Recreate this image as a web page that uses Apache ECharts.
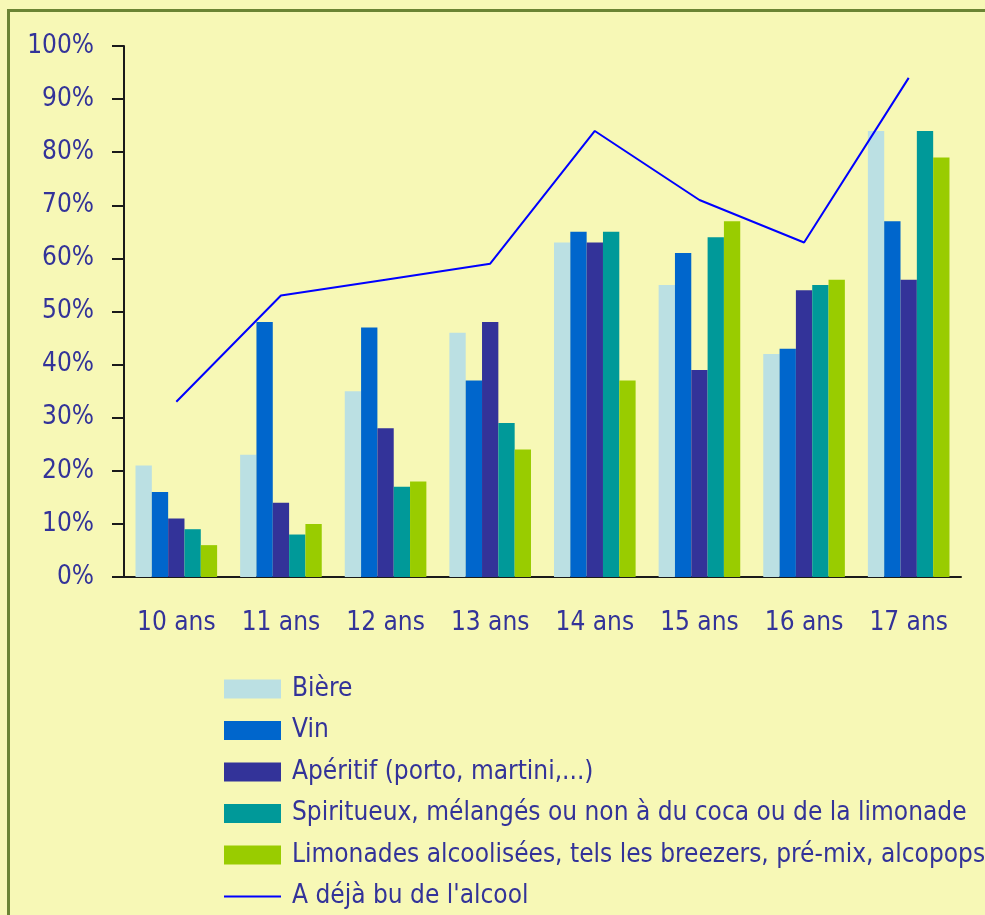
<!DOCTYPE html>
<html>
<head>
<meta charset="utf-8">
<script src="https://cdn.jsdelivr.net/npm/echarts@6/dist/echarts.min.js"></script>
<style>
  html, body { margin: 0; padding: 0; background: #F7F8B6; }
  #chart { width: 985px; height: 915px; }
</style>
</head>
<body>
<div id="chart"></div>
<script>
  // categories (age) and series values in %
  const ages = ['10 ans', '11 ans', '12 ans', '13 ans', '14 ans', '15 ans', '16 ans', '17 ans'];
  const biere = [21, 23, 35, 46, 63, 55, 42, 84];
  const vin = [16, 48, 47, 37, 65, 61, 43, 67];
  const aperitif = [11, 14, 28, 48, 63, 39, 54, 56];
  const spiritueux = [9, 8, 17, 29, 65, 64, 55, 84];
  const limonades = [6, 10, 18, 24, 37, 67, 56, 79];
  const dejaBu = [33, 53, 56, 59, 84, 71, 63, 94];

  const FONT = '"Liberation Sans Narrow", "DejaVu Sans Condensed", sans-serif';
  const TXT = '#333399';

  const barSeries = [
    { name: 'Bière', data: biere, color: '#BBE0E3' },
    { name: 'Vin', data: vin, color: '#0066CC' },
    { name: 'Apéritif (porto, martini,...)', data: aperitif, color: '#333399' },
    { name: 'Spiritueux, mélangés ou non à du coca ou de la limonade', data: spiritueux, color: '#009999' },
    { name: 'Limonades alcoolisées, tels les breezers, pré-mix, alcopops', data: limonades, color: '#99CC00' }
  ];
  const lineName = "A déjà bu de l'alcool";

  const chart = echarts.init(document.getElementById('chart'));
  const option = {
    backgroundColor: '#F7F8B6',
    animation: false,
    textStyle: { fontFamily: FONT },
    graphic: [{
      type: 'rect',
      shape: { x: 8.5, y: 10.5, width: 2000, height: 2000 },
      style: { fill: 'none', stroke: '#6B8434', lineWidth: 3 },
      silent: true
    }],
    grid: { left: 124, top: 46, right: 24, bottom: 338 },
    legend: {
      orient: 'vertical',
      left: 223,
      top: 675,
      height: 240,
      padding: 0,
      itemWidth: 57,
      itemHeight: 19,
      itemGap: 13.5,
      textStyle: { color: TXT, fontSize: 26, fontFamily: FONT, lineHeight: 28, padding: [0, 0, 0, 6] },
      data: barSeries.map(s => ({ name: s.name, icon: 'rect' })).concat([{
        name: lineName,
        itemStyle: { opacity: 0 },
        lineStyle: { color: '#0000FF', width: 2 }
      }])
    },
    xAxis: {
      type: 'category',
      data: ages,
      axisLine: { lineStyle: { color: '#1a1a1a', width: 2 } },
      axisTick: { length: 10, lineStyle: { color: '#1a1a1a', width: 2 } },
      axisLabel: { color: TXT, fontSize: 26, fontFamily: FONT, margin: 33, interval: 0 }
    },
    yAxis: {
      type: 'value',
      min: 0,
      max: 100,
      interval: 10,
      splitLine: { show: false },
      axisLine: { show: true, lineStyle: { color: '#1a1a1a', width: 2 } },
      axisTick: { show: true, length: 12, lineStyle: { color: '#1a1a1a', width: 2 } },
      axisLabel: { color: TXT, fontSize: 26, fontFamily: FONT, margin: 30, formatter: '{value}%' }
    },
    series: barSeries.map(s => ({
      name: s.name,
      type: 'bar',
      data: s.data,
      barGap: '0%',
      barCategoryGap: '22%',
      itemStyle: { color: s.color }
    })).concat([{
      name: lineName,
      type: 'line',
      data: dejaBu,
      symbol: 'none',
      z: 5,
      itemStyle: { color: '#0000FF' },
      lineStyle: { color: '#0000FF', width: 2 }
    }])
  };
  chart.setOption(option);
</script>
</body>
</html>
